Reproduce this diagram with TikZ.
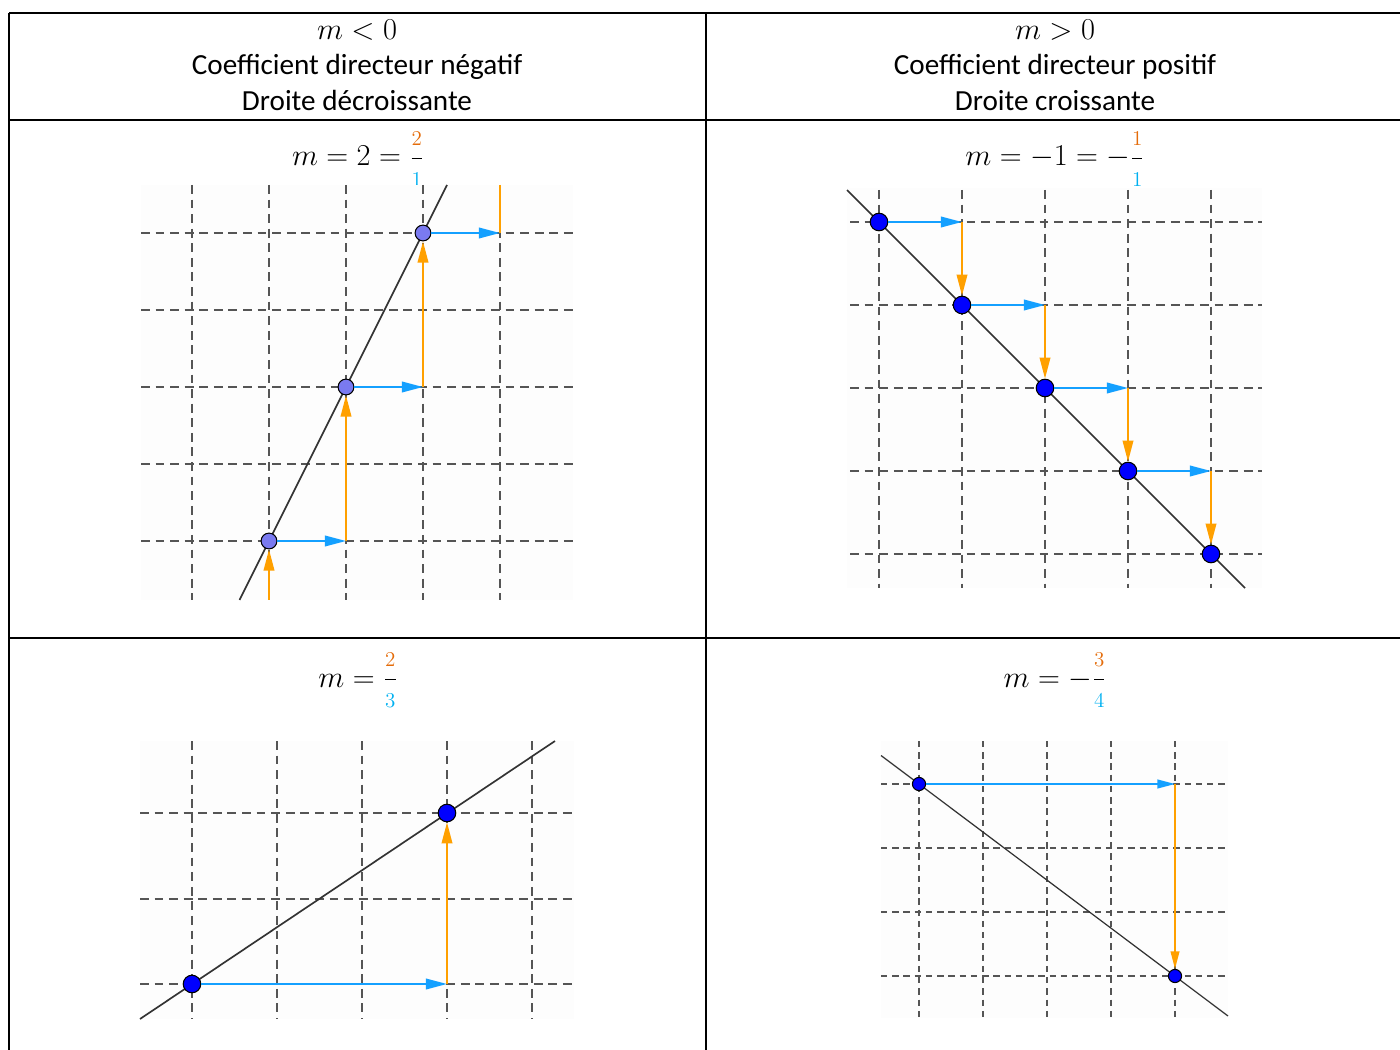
\documentclass[tikz,border=0pt]{standalone}
\usepackage{amsmath}
\usepackage{fontspec}
\setmainfont{Carlito}
\usepackage{xcolor}
\usetikzlibrary{arrows.meta}

\definecolor{numorange}{RGB}{228,108,10}
\definecolor{denblue}{RGB}{0,176,240}
\definecolor{flecheorange}{RGB}{255,160,0}
\definecolor{flechebleu}{RGB}{20,160,255}
\definecolor{ptmauve}{RGB}{122,122,240}
\definecolor{grisgrille}{RGB}{85,85,85}

\newcommand{\chiffre}[2]{\mbox{\fontsize{12.5}{13}\selectfont\color{#1}$#2$}}
\newcommand{\pente}[2]{\genfrac{}{}{}{0}{\chiffre{numorange}{#1}}{\chiffre{denblue}{#2}}}

\begin{document}
\begin{tikzpicture}[x=0.02cm, y=-0.02cm, >=Stealth,
    cadre/.style={line width=1.15pt},
    fond/.style={fill=black!0.8},
    grille/.style={dash pattern=on 5pt off 3.3pt, line width=0.85pt, grisgrille},
    droite/.style={line width=0.95pt, black!80},
    pt/.style={circle, draw=black, line width=0.6pt, fill=blue, inner sep=0pt, minimum size=10pt},
    flecheb/.style={-{Triangle[length=12pt,width=6pt]}, line width=1.1pt, flechebleu},
    flecheo/.style={-{Triangle[length=12pt,width=6pt]}, line width=1.1pt, flecheorange},
    txt/.style={font=\fontsize{16.6}{20.4}\selectfont, anchor=base, inner sep=0pt},
    titre/.style={font=\fontsize{16}{20}\selectfont, anchor=base, inner sep=0pt}]
    \useasboundingbox (0,0) rectangle (1400,1050);

    % Table
    \draw [cadre] (9,13) -- (1400,13);
    \draw [cadre] (9,120) -- (1400,120);
    \draw [cadre] (9,638) -- (1400,638);
    \draw [cadre] (9,13) -- (9,1050);
    \draw [cadre] (706,13) -- (706,1050);

    % Headers
    \node [txt] (hgA) at (357,40) {$m<0$};
    \node [txt] (hgB) at (357,75) {Coefficient directeur négatif};
    \node [txt] (hgC) at (357,111) {Droite décroissante};
    \node [txt] (hdA) at (1055,40) {$m>0$};
    \node [txt] (hdB) at (1055,75) {Coefficient directeur positif};
    \node [txt] (hdC) at (1055,111) {Droite croissante};

    % Panel m = 2
    \node [titre] (tA) at (358,166) {$m=2=\pente{2}{1}$};
    \fill [fond] (141,185) rectangle (573,600);
    \foreach \x in {192,269,346,423,500}
        \draw [grille] (\x,185) -- (\x,600);
    \foreach \y in {233,310,387,464,541}
        \draw [grille] (141,\y) -- (573,\y);
    \draw [droite] (239.5,600) -- (447,185);
    \coordinate (a0) at (269,600);
    \coordinate (b1) at (346,541);
    \coordinate (b2) at (423,387);
    \coordinate (b3) at (500,233);
    \coordinate (b4) at (500,185);
    \node [pt, fill=ptmauve, minimum size=9pt] (a1) at (269,541) {};
    \node [pt, fill=ptmauve, minimum size=9pt] (a2) at (346,387) {};
    \node [pt, fill=ptmauve, minimum size=9pt] (a3) at (423,233) {};
    \draw [flecheo] (a0) -- (a1);
    \draw [flecheo] (b1) -- (a2);
    \draw [flecheo] (b2) -- (a3);
    \draw [line width=1.1pt, flecheorange] (b3) -- (b4);
    \draw [flecheb] (a1) -- (b1);
    \draw [flecheb] (a2) -- (b2);
    \draw [flecheb] (a3) -- (b3);

    % Panel m = -1
    \node [titre] (tB) at (1055,166) {$m=-1=-\pente{1}{1}$};
    \fill [fond] (847,188) rectangle (1262,588);
    \foreach \x in {879,962,1045,1128,1211}
        \draw [grille] (\x,190) -- (\x,588);
    \foreach \y in {222,305,388,471,554}
        \draw [grille] (850,\y) -- (1262,\y);
    \draw [droite] (847,190) -- (1245,588);
    \foreach \i/\x/\y in {1/879/222,2/962/305,3/1045/388,4/1128/471,5/1211/554}
        \node [pt] (p\i) at (\x,\y) {};
    \coordinate (q1) at (962,222);
    \coordinate (q2) at (1045,305);
    \coordinate (q3) at (1128,388);
    \coordinate (q4) at (1211,471);
    \draw [flecheb] (p1) -- (q1);
    \draw [flecheb] (p2) -- (q2);
    \draw [flecheb] (p3) -- (q3);
    \draw [flecheb] (p4) -- (q4);
    \draw [flecheo] (q1) -- (p2);
    \draw [flecheo] (q2) -- (p3);
    \draw [flecheo] (q3) -- (p4);
    \draw [flecheo] (q4) -- (p5);

    % Panel m = 2/3
    \node [titre] (tC) at (358,687) {$m=\pente{2}{3}$};
    \fill [fond] (140,741) rectangle (574,1019);
    \foreach \x in {192,277,362,447,532}
        \draw [grille] (\x,741) -- (\x,1019);
    \foreach \y in {813,899,984}
        \draw [grille] (140,\y) -- (574,\y);
    \draw [droite] (140,1019) -- (555,741);
    \node [pt] (c1) at (192,984) {};
    \node [pt] (c2) at (447,813) {};
    \coordinate (d1) at (447,984);
    \draw [flecheb] (c1) -- (d1);
    \draw [flecheo] (d1) -- (c2);

    % Panel m = -3/4
    \node [titre] (tD) at (1055,687) {$m=-\pente{3}{4}$};
    \fill [fond] (881,741) rectangle (1228,1018);
    \foreach \x in {919,983,1047,1111,1175}
        \draw [grille, dash pattern=on 3.6pt off 2.8pt, line width=0.6pt] (\x,741) -- (\x,1018);
    \foreach \y in {784,848,912,976}
        \draw [grille, dash pattern=on 3.6pt off 2.8pt, line width=0.6pt] (881,\y) -- (1228,\y);
    \draw [droite, line width=0.7pt] (881,755.5) -- (1228,1016);
    \node [pt, minimum size=7.5pt] (e1) at (919,784) {};
    \node [pt, minimum size=7.5pt] (e2) at (1175,976) {};
    \coordinate (f1) at (1175,784);
    \draw [flecheb, line width=0.9pt, -{Triangle[length=10pt,width=5pt]}] (e1) -- (f1);
    \draw [flecheo, line width=0.9pt, -{Triangle[length=10pt,width=5pt]}] (f1) -- (e2);
\end{tikzpicture}
\end{document}
